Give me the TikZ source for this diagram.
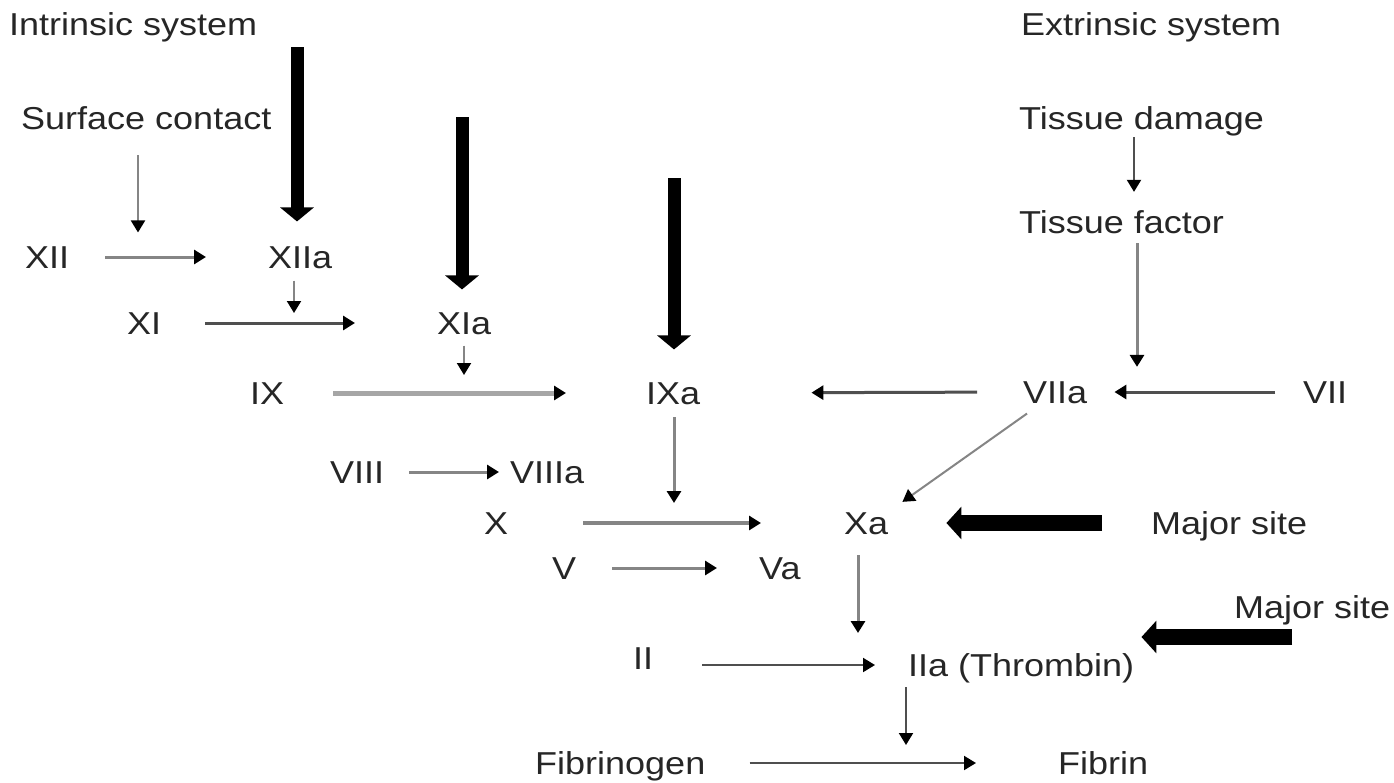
\documentclass[tikz,border=0pt]{standalone}
\usepackage{fontspec}
\setmainfont{Liberation Sans}
\usepackage{graphicx}
\usetikzlibrary{arrows.meta,calc}
\definecolor{txt}{HTML}{262626}
\definecolor{lnd}{HTML}{4F4F4F}
\definecolor{lnm}{HTML}{858585}
\definecolor{lnl}{HTML}{A6A6A6}
\newcommand{\squash}[1]{\scalebox{1}[0.88]{#1}}
\tikzset{
  lbl/.style={anchor=west, inner sep=0pt, text height=22.7pt, text depth=0pt,
              text=txt, font=\fontsize{36}{40}\selectfont},
  conn/.style={line width=2.5pt, -{Triangle[length=12pt,width=14pt,color=black]}},
  heavy/.style={line width=13pt, draw=black, -{Triangle[length=14pt,width=33pt]}},
  heavyh/.style={line width=16pt, draw=black, -{Triangle[length=15pt,width=32pt]}}
}
\begin{document}
\begin{tikzpicture}[x=1pt,y=-1pt]
\useasboundingbox (0,0) rectangle (1394,782);
\fill[white] (0,0) rectangle (1394,782);

% headings and sources
\node[lbl] (intr) at (9,24)    {\squash{Intrinsic system}};
\node[lbl] (surf) at (21,118)  {\squash{Surface contact}};
\node[lbl] (extr) at (1021,24) {\squash{Extrinsic system}};
\node[lbl] (tdam) at (1019,118){\squash{Tissue damage}};
\node[lbl] (tfac) at (1019,222){\squash{Tissue factor}};

% factors
\node[lbl] (XII)   at (25,257)   {\squash{XII}};
\node[lbl] (XIIa)  at (268,257)  {\squash{XIIa}};
\node[lbl] (XI)    at (127,323)  {\squash{XI}};
\node[lbl] (XIa)   at (437,323)  {\squash{XIa}};
\node[lbl] (IX)    at (250,393)  {\squash{IX}};
\node[lbl] (IXa)   at (646,393)  {\squash{IXa}};
\node[lbl] (VIIa)  at (1023,392) {\squash{VIIa}};
\node[lbl] (VII)   at (1303,392) {\squash{VII}};
\node[lbl] (VIII)  at (330,472)  {\squash{VIII}};
\node[lbl] (VIIIa) at (510,472)  {\squash{VIIIa}};
\node[lbl] (X)     at (484,523)  {\squash{X}};
\node[lbl] (Xa)    at (844,523)  {\squash{Xa}};
\node[lbl] (maj1)  at (1151,523) {\squash{Major site}};
\node[lbl] (V)     at (552,568)  {\squash{V}};
\node[lbl] (Va)    at (759,568)  {\squash{Va}};
\node[lbl] (maj2)  at (1234,607) {\squash{Major site}};
\node[lbl] (II)    at (633,658)  {\squash{II}};
\node[lbl] (IIa)   at (908,665)  {\squash{IIa (Thrombin)}};
\node[lbl] (fbg)   at (535,763)  {\squash{Fibrinogen}};
\node[lbl] (fbn)   at (1058,763) {\squash{Fibrin}};

% columns and free ends
\coordinate (colSC) at (138,0);
\coordinate (colTD) at (1134,0);
\coordinate (colTF) at (1137,0);
\coordinate (k1) at (294,313);
\coordinate (k2) at (464,375);
\coordinate (k3) at (674,503);
\coordinate (k4) at (858,633);
\coordinate (k5) at (906,745);
\coordinate (t1) at (297,47);
\coordinate (t2) at (462,117);
\coordinate (t3) at (674,178);
\coordinate (t5) at (1292,637);

% intrinsic cascade
\draw[conn, draw=lnm, line width=2pt, shorten <=25.6pt, shorten >=13pt] (surf.south -| colSC) -- (XII.north -| colSC);
\draw[conn, draw=lnm, line width=3pt, shorten <=36pt, shorten >=62pt] (XII.east) -- (XIIa.west);
\draw[conn, draw=lnm, line width=2pt, shorten <=12pt] (XIIa.south -| k1) -- (k1);
\draw[conn, draw=lnd, line width=3pt, shorten <=44pt, shorten >=82pt] (XI.east) -- (XIa.west);
\draw[conn, draw=lnm, line width=2pt, shorten <=11pt] (XIa.south -| k2) -- (k2);
\draw[conn, draw=lnl, line width=5pt, shorten <=49pt, shorten >=80pt] (IX.east) -- (IXa.west);
\draw[conn, draw=lnm, line width=3pt, shorten <=12.6pt] (IXa.south -| k3) -- (k3);
\draw[conn, draw=lnm, line width=3pt, shorten <=25pt, shorten >=11pt] (VIII.east) -- (VIIIa.west);
\draw[conn, draw=lnm, line width=4pt, shorten <=75pt, shorten >=83pt] (X.east) -- (Xa.west);
\draw[conn, draw=lnm, line width=3pt, shorten <=36pt, shorten >=42pt] (V.east) -- (Va.west);

% extrinsic cascade
\draw[conn, draw=lnd, line width=2pt, shorten <=7.6pt, shorten >=18.6pt] (tdam.south -| colTD) -- (tfac.north -| colTD);
\draw[conn, draw=lnm, line width=3pt, shorten <=9.6pt, shorten >=13.6pt] (tfac.south -| colTF) -- (VIIa.north -| colTF);
\draw[conn, draw=lnd, line width=3pt, shorten <=28pt, shorten >=27pt] (VII.west) -- (VIIa.east);
\draw[conn, draw=lnd, line width=3pt, shorten <=46pt, shorten >=111pt] (VIIa.west) -- (IXa.east);
\draw[conn, draw=lnm, line width=2pt] ([shift={(4pt,-10pt)}]VIIa.south west) -- ([shift={(14pt,9.6pt)}]Xa.north east);

% common pathway
\draw[conn, draw=lnm, line width=3pt, shorten <=20.6pt] (Xa.south -| k4) -- (k4);
\draw[conn, draw=lnd, line width=2pt, shorten <=49pt, shorten >=33pt] (II.east |- IIa.west) -- (IIa.west);
\draw[conn, draw=lnd, line width=2pt, shorten <=10.6pt] (IIa.south -| k5) -- (k5);
\draw[conn, draw=lnd, line width=2pt, shorten <=44pt, shorten >=82pt] (fbg.east) -- (fbn.west);

% heavy arrows
\draw[heavy, shorten >=24pt] (t1) -- (XIIa.north -| t1);
\draw[heavy, shorten >=22pt] (t2) -- (XIa.north -| t2);
\draw[heavy, shorten >=32pt] (t3) -- (IXa.north -| t3);
\draw[heavyh, shorten <=49pt, shorten >=58pt] (maj1.west) -- (Xa.east);
\draw[heavyh] (t5) -- ($(IIa.east |- t5)+(7,0)$);
\end{tikzpicture}
\end{document}
